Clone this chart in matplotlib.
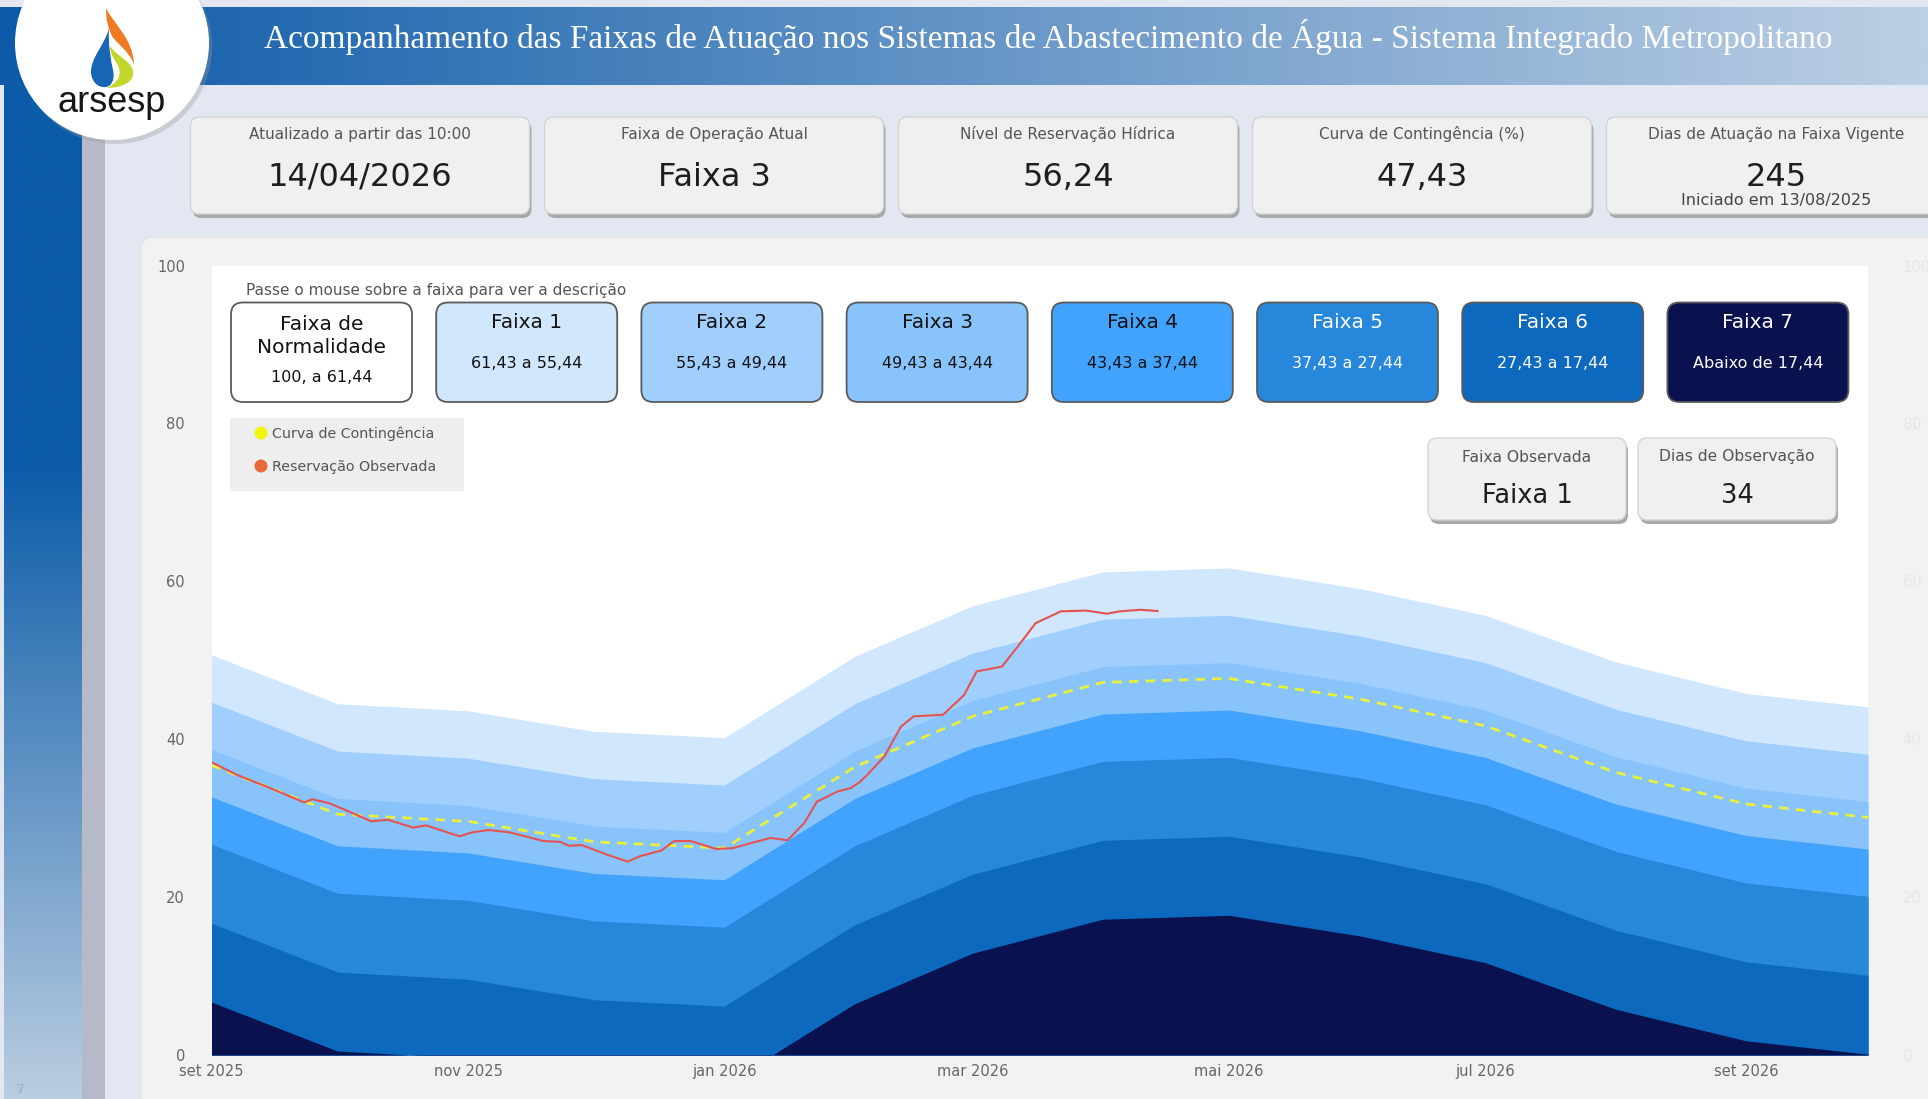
import matplotlib
matplotlib.use("Agg")
import matplotlib.pyplot as plt
import numpy as np
import pandas as pd
from matplotlib.patches import FancyBboxPatch, Circle, PathPatch, Rectangle
from matplotlib.path import Path
from matplotlib.colors import to_rgb

# ---- data ----
TITLE = ("Acompanhamento das Faixas de Atuação nos Sistemas de Abastecimento "
         "de Água - Sistema Integrado Metropolitano")

kpi_titles = ["Atualizado a partir das 10:00", "Faixa de Operação Atual",
              "Nível de Reservação Hídrica", "Curva de Contingência (%)",
              "Dias de Atuação na Faixa Vigente"]
kpi_values = ["14/04/2026", "Faixa 3", "56,24", "47,43", "245"]
kpi_note = "Iniciado em 13/08/2025"

band_names = ["Faixa de\nNormalidade", "Faixa 1", "Faixa 2", "Faixa 3",
              "Faixa 4", "Faixa 5", "Faixa 6", "Faixa 7"]
band_ranges = ["100, a 61,44", "61,43 a 55,44", "55,43 a 49,44", "49,43 a 43,44",
               "43,43 a 37,44", "37,43 a 27,44", "27,43 a 17,44", "Abaixo de 17,44"]
band_colors = ["#FFFFFF", "#D1E7FE", "#A1CFFD", "#88C4FB",
               "#41A3FD", "#2787DB", "#0C69BE", "#09124E"]
# upper limit of Faixa 1..7, relative to the contingency curve (from the ranges above)
band_offsets = [14, 8, 2, -4, -10, -20, -30]

curve_dates = ["2025-09-01", "2025-10-01", "2025-11-01", "2025-12-01", "2026-01-01",
               "2026-02-01", "2026-03-01", "2026-04-01", "2026-05-01", "2026-06-01",
               "2026-07-01", "2026-08-01", "2026-09-01", "2026-09-30"]
curve_values = [36.7, 30.5, 29.6, 27.0, 26.2, 36.5, 42.9, 47.2, 47.7, 45.1,
                41.7, 35.8, 31.8, 30.1]

obs_dates = ["2025-09-01", "2025-09-07", "2025-09-15", "2025-09-23", "2025-09-25",
             "2025-09-29", "2025-10-03", "2025-10-09", "2025-10-13", "2025-10-19",
             "2025-10-22", "2025-10-30", "2025-11-02", "2025-11-06", "2025-11-11",
             "2025-11-19", "2025-11-23", "2025-11-25", "2025-11-28", "2025-12-04",
             "2025-12-09", "2025-12-12", "2025-12-17", "2025-12-20", "2025-12-24",
             "2025-12-30", "2026-01-03", "2026-01-07", "2026-01-12", "2026-01-16",
             "2026-01-20", "2026-01-23", "2026-01-28", "2026-01-31", "2026-02-02",
             "2026-02-04", "2026-02-08", "2026-02-12", "2026-02-15", "2026-02-22",
             "2026-02-27", "2026-03-02", "2026-03-08", "2026-03-12", "2026-03-16",
             "2026-03-20", "2026-03-22", "2026-03-28", "2026-04-02", "2026-04-05",
             "2026-04-10", "2026-04-14"]
obs_values = [37.1, 35.5, 33.8, 32.0, 32.4, 31.9, 31.0, 29.6, 29.8, 28.8,
              29.1, 27.7, 28.2, 28.5, 28.2, 27.1, 27.0, 26.5, 26.6, 25.4,
              24.5, 25.2, 25.9, 27.1, 27.1, 26.1, 26.2, 26.8, 27.5, 27.2,
              29.4, 32.1, 33.4, 33.8, 34.5, 35.5, 37.8, 41.6, 42.9, 43.1,
              45.6, 48.6, 49.2, 51.9, 54.7, 55.7, 56.2, 56.3, 55.9, 56.2,
              56.4, 56.24]

tick_dates = ["2025-09-01", "2025-11-01", "2026-01-01", "2026-03-01",
              "2026-05-01", "2026-07-01", "2026-09-01"]
tick_labels = ["set 2025", "nov 2025", "jan 2026", "mar 2026",
               "mai 2026", "jul 2026", "set 2026"]

obs_card_titles = ["Faixa Observada", "Dias de Observação"]
obs_card_values = ["Faixa 1", "34"]

# ---- figure ----
W, H = 1928, 1099
plt.rcParams['font.family'] = ['DejaVu Sans']
fig = plt.figure(figsize=(W / 100, H / 100), dpi=100, facecolor='white')


def pixel_axes(z):
    a = fig.add_axes([0, 0, 1, 1], zorder=z)
    a.set_xlim(0, W)
    a.set_ylim(H, 0)
    a.axis('off')
    return a


def gradient(a, x0, x1, y0, y1, c0, c1, horizontal=True, start=0.0, z=0):
    n = 256
    t = np.clip((np.linspace(0, 1, n) - start) / (1 - start), 0, 1)
    c0, c1 = np.array(to_rgb(c0)), np.array(to_rgb(c1))
    row = c0[None, :] * (1 - t[:, None]) + c1[None, :] * t[:, None]
    img = row[None, :, :] if horizontal else row[:, None, :]
    a.imshow(img, extent=(x0, x1, y1, y0), aspect='auto', zorder=z,
             interpolation='bilinear')


def rbox(a, x, y, w, h, fc, ec='none', lw=1.0, r=8, z=1, shadow=None):
    style = "round,pad=0,rounding_size=%s" % r
    if shadow:
        a.add_patch(FancyBboxPatch((x + shadow[0], y + shadow[1]), w, h, boxstyle=style,
                                   fc=shadow[2], ec='none', zorder=z - 0.1))
    a.add_patch(FancyBboxPatch((x, y), w, h, boxstyle=style, fc=fc, ec=ec, lw=lw, zorder=z))


bg = pixel_axes(0)

# page background, side bar and header
bg.add_patch(Rectangle((0, 0), W, H, fc='#E3E7F2', ec='none', zorder=0))
gradient(bg, 4, 82, 7, H, '#0B5CA8', '#BACDE1', horizontal=False, start=0.42, z=0.5)
bg.add_patch(Rectangle((82, 84), 23, H, fc='#B6BAC8', ec='none', zorder=0.6))
gradient(bg, 0, W, 7, 85, '#0C5AA8', '#BCCFE4', horizontal=True, z=0.7)
bg.text(1048, 37, TITLE, color='white', fontsize=24, ha='center', va='center',
        family='Liberation Serif', zorder=3)

# logo
bg.add_patch(Circle((115, 47), 97, fc='#9A9A9A', alpha=0.35, ec='none', zorder=1.9))
bg.add_patch(Circle((112, 43), 97, fc='white', ec='none', zorder=2))
C = Path.CURVE4
orange = Path([(106, 8), (112, 22), (133, 38), (134, 64), (128, 50), (117, 44), (112, 36),
               (108, 28), (106, 20), (106, 8)],
              [Path.MOVETO, C, C, C, C, C, C, C, C, C])
green = Path([(110, 46), (118, 58), (135, 62), (133, 75), (132, 83), (120, 88), (107, 88),
              (116, 83), (122, 77), (119, 68), (116, 60), (110, 56), (110, 46)],
             [Path.MOVETO, C, C, C, C, C, C, C, C, C, C, C, C])
blue = Path([(109, 28), (105, 45), (90, 58), (91, 73), (92, 83), (99, 88), (106, 87),
             (112, 86), (115, 79), (113, 70), (111, 60), (108, 47), (109, 28)],
            [Path.MOVETO, C, C, C, C, C, C, C, C, C, C, C, C])
bg.add_patch(PathPatch(orange, fc='#F07A22', ec='none', zorder=2.1))
bg.add_patch(PathPatch(green, fc='#C2D62C', ec='none', zorder=2.2))
bg.add_patch(PathPatch(blue, fc='#1666B5', ec='none', zorder=2.3))
bg.text(112, 102, "arsesp", family='Liberation Sans', fontsize=26, color='#161616',
        ha='center', va='center', zorder=2.4)
bg.text(16, 1090, "7", fontsize=10, color='#9DB2C8', ha='left', va='center', zorder=1)

# KPI cards
card_w, card_step = 339, 354
for i, (t, v) in enumerate(zip(kpi_titles, kpi_values)):
    x0 = 190.5 + i * card_step
    rbox(bg, x0, 117, card_w, 97, '#F0F0F0', ec='#D4D4D4', lw=1, r=9, z=1.5,
         shadow=(2, 4, '#A8A8A8'))
    cx = x0 + card_w / 2
    bg.text(cx, 134, t, fontsize=11, color='#555555', ha='center', va='center', zorder=2)
    bg.text(cx, 177, v, fontsize=23, color='#1E1E1E', ha='center', va='center', zorder=2)
    if i == len(kpi_titles) - 1:
        bg.text(cx, 201, kpi_note, fontsize=11.5, color='#444444', ha='center',
                va='center', zorder=2)

# chart panel
rbox(bg, 141, 237, W, H, '#F2F2F2', ec='#E6E6E6', lw=1, r=14, z=1.2)

# ---- chart ----
ax = fig.add_axes([211.5 / W, 1 - 1055 / H, (1868 - 211.5) / W, (1055 - 265.6) / H],
                  zorder=1)
ax.set_facecolor('white')
cx_dates = pd.to_datetime(curve_dates)
curve = np.array(curve_values)
for off, col in zip(band_offsets, band_colors[1:]):
    ax.fill_between(cx_dates, 0, curve + off, color=col, lw=0, zorder=1)
ax.plot(cx_dates, curve, color='#E9F03C', lw=2.0, dashes=(3.4, 2.6), zorder=3)
ax.plot(pd.to_datetime(obs_dates), obs_values, color='#E5524F', lw=1.5, zorder=4,
        solid_joinstyle='round')

ax.set_ylim(0, 100)
ax.set_xlim(pd.Timestamp("2025-09-01"), pd.Timestamp("2026-09-30"))
ax.set_yticks([0, 20, 40, 60, 80, 100])
ax.set_xticks(pd.to_datetime(tick_dates), tick_labels)
ax.tick_params(axis='y', length=0, pad=19, labelsize=10.5, labelcolor='#666666')
ax.tick_params(axis='x', length=0, pad=6.5, labelsize=10.5, labelcolor='#666666')
for s in ax.spines.values():
    s.set_visible(False)

ax2 = ax.twinx()
ax2.set_ylim(0, 100)
ax2.set_yticks([0, 20, 40, 60, 80, 100])
ax2.tick_params(axis='y', length=0, pad=25, labelsize=10.5, labelcolor='#E6E6E6')
for s in ax2.spines.values():
    s.set_visible(False)

# ---- overlays on the plot area ----
ov = pixel_axes(2)
ov.text(246, 290, "Passe o mouse sobre a faixa para ver a descrição", fontsize=11,
        color='#555555', ha='left', va='center')
box_w, box_step = 181, 205.2
for i, (name, rng, col) in enumerate(zip(band_names, band_ranges, band_colors)):
    x0 = 231 + i * box_step
    rbox(ov, x0, 302.5, box_w, 99.5, col, ec='#5A5A5A', lw=1.3, r=12, z=1)
    tc = '#111111' if i < 5 else 'white'
    cx = x0 + box_w / 2
    if '\n' in name:
        ov.text(cx, 336, name, fontsize=14.5, color=tc, ha='center', va='center',
                linespacing=1.25, zorder=2)
        ov.text(cx, 377, rng, fontsize=11.5, color=tc, ha='center', va='center', zorder=2)
    else:
        ov.text(cx, 323, name, fontsize=14.5, color=tc, ha='center', va='center', zorder=2)
        ov.text(cx, 363, rng, fontsize=11.5, color=tc, ha='center', va='center', zorder=2)

# legend
ov.add_patch(Rectangle((230, 418), 234, 73, fc='#EEEEEE', ec='none', zorder=1))
ov.add_patch(Circle((261, 433), 6.5, fc='#F4F40C', ec='none', zorder=2))
ov.add_patch(Circle((261, 466), 6.5, fc='#E8693A', ec='none', zorder=2))
ov.text(272, 434, "Curva de Contingência", fontsize=10.3, color='#555555', va='center', zorder=2)
ov.text(272, 467, "Reservação Observada", fontsize=10.3, color='#555555', va='center', zorder=2)

# observed cards
for x0, t, v in zip([1428, 1638], obs_card_titles, obs_card_values):
    rbox(ov, x0, 438, 198, 82, '#F0F0F0', ec='#D4D4D4', lw=1, r=9, z=1,
         shadow=(2, 4, '#A8A8A8'))
    ov.text(x0 + 99, 457, t, fontsize=11.2, color='#555555', ha='center', va='center', zorder=2)
    ov.text(x0 + 99, 496, v, fontsize=18.5, color='#1E1E1E', ha='center', va='center', zorder=2)

for a in (bg, ov):
    a.set_xlim(0, W)
    a.set_ylim(H, 0)

fig.savefig("out.png", dpi=100, facecolor=fig.get_facecolor())
